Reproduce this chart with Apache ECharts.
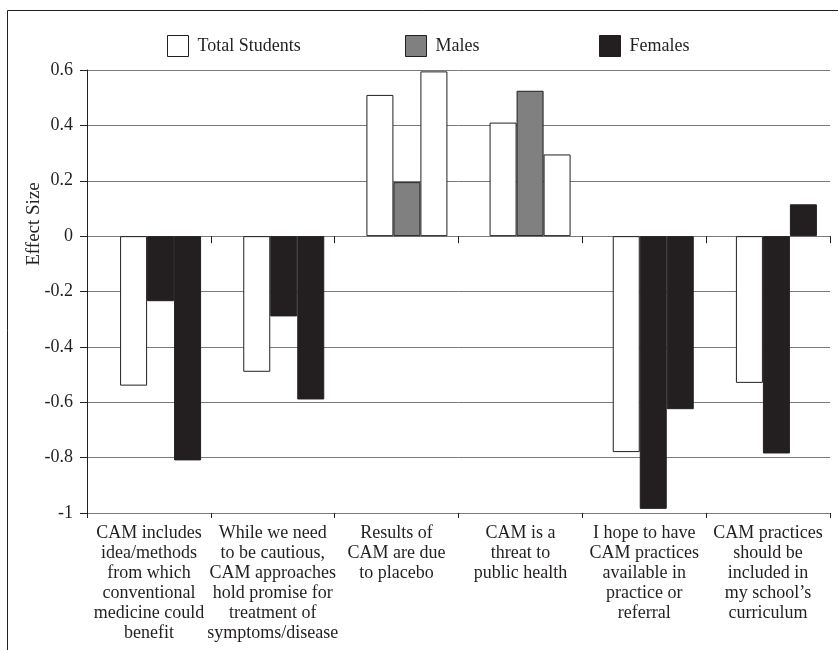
<!DOCTYPE html>
<html>
<head>
<meta charset="utf-8">
<script src="https://cdn.jsdelivr.net/npm/echarts@6/dist/echarts.min.js"></script>
<style>
  html, body { margin: 0; padding: 0; background: #fff; }
  #chart { width: 838px; height: 650px; }
</style>
</head>
<body>
<div id="chart"></div>
<script>
// 数据
const categories = [
  'CAM includes\nidea/methods\nfrom which\nconventional\nmedicine could\nbenefit',
  'While we need\nto be cautious,\nCAM approaches\nhold promise for\ntreatment of\nsymptoms/disease',
  'Results of\nCAM are due\nto placebo',
  'CAM is a\nthreat to\npublic health',
  'I hope to have\nCAM practices\navailable in\npractice or\nreferral',
  'CAM practices\nshould be\nincluded in\nmy school\u2019s\ncurriculum'
]
const totalStudents = [-0.54, -0.49, 0.51, 0.41, -0.78, -0.53]
const males = [-0.235, -0.29, 0.195, 0.525, -0.985, -0.785]
const females = [-0.81, -0.59, 0.595, 0.295, -0.625, 0.115]

// 配色
const ink = '#231f20'
const grey = '#808080'
const maleFill = [ink, ink, grey, grey, ink, ink]
const femaleFill = [ink, ink, '#ffffff', '#ffffff', ink, ink]

const font = '"Liberation Serif", "DejaVu Serif", serif'
const gridColor = '#7a7a7a'

const chart = echarts.init(document.getElementById('chart'))

const barStyle = (fill) => ({
  color: fill,
  borderColor: ink,
  borderWidth: 1
})

const legendItem = (name, left, fill) => ({
  left: left,
  top: 35,
  padding: 0,
  itemWidth: 21,
  itemHeight: 21,
  icon: 'rect',
  selectedMode: false,
  data: [{ name: name, itemStyle: barStyle(fill) }],
  textStyle: { fontFamily: font, fontSize: 18, color: ink, padding: [0, 0, 0, 4] }
})

const option = {
  animation: false,
  backgroundColor: '#fff',
  textStyle: { fontFamily: font },
  legend: [
    legendItem('Total Students', 167, '#ffffff'),
    legendItem('Males', 405, grey),
    legendItem('Females', 599, ink)
  ],
  grid: [
    // 坐标轴网格
    { left: 87, right: 8, top: 70, bottom: 137 },
    // 柱子网格（原图柱组略向右偏）
    { left: 99, right: -4, top: 70, bottom: 137 }
  ],
  graphic: [
    {
      type: 'polyline',
      shape: { points: [[7.5, 650], [7.5, 10.5], [838, 10.5]] },
      style: { stroke: ink, lineWidth: 1, fill: null }
    },
    {
      type: 'text',
      x: 34,
      y: 224,
      rotation: Math.PI / 2,
      style: {
        text: 'Effect Size',
        font: '19px ' + font,
        fill: ink,
        textAlign: 'center',
        textVerticalAlign: 'middle'
      }
    }
  ],
  xAxis: [
    {
      // 零线 + 分类刻度
      type: 'category',
      gridIndex: 0,
      position: 'bottom',
      data: categories,
      axisLine: { show: true, onZero: true, onZeroAxisIndex: 0, lineStyle: { color: gridColor } },
      axisTick: { show: true, interval: 0, length: 7, lineStyle: { color: ink, width: 1 } },
      axisLabel: { show: false }
    },
    {
      // 底部分类标签
      type: 'category',
      gridIndex: 0,
      position: 'bottom',
      data: categories,
      axisLine: { show: true, onZero: false, lineStyle: { color: gridColor } },
      axisTick: { show: true, interval: 0, length: 5, lineStyle: { color: ink, width: 1 } },
      axisLabel: {
        interval: 0,
        margin: 10,
        fontFamily: font,
        fontSize: 18,
        lineHeight: 20,
        color: ink,
        align: 'center'
      }
    },
    {
      type: 'category',
      gridIndex: 1,
      data: categories,
      show: false
    }
  ],
  yAxis: [
    {
      type: 'value',
      gridIndex: 0,
      min: -1,
      max: 0.6,
      interval: 0.2,
      axisLine: { show: true, lineStyle: { color: ink } },
      axisTick: { show: true, length: 7, lineStyle: { color: ink } },
      axisLabel: {
        margin: 14,
        fontFamily: font,
        fontSize: 18,
        color: ink,
        formatter: (v) => String(+v.toFixed(1))
      },
      splitLine: { show: true, lineStyle: { color: gridColor, width: 1 } }
    },
    {
      type: 'value',
      gridIndex: 1,
      min: -1,
      max: 0.6,
      interval: 0.2,
      show: false,
      splitLine: { show: false }
    }
  ],
  series: [
    {
      name: 'Total Students',
      type: 'bar',
      xAxisIndex: 2,
      yAxisIndex: 1,
      barWidth: 27,
      barGap: '0%',
      itemStyle: barStyle('#ffffff'),
      data: totalStudents
    },
    {
      name: 'Males',
      type: 'bar',
      xAxisIndex: 2,
      yAxisIndex: 1,
      barWidth: 27,
      barGap: '0%',
      itemStyle: barStyle(grey),
      data: males.map((v, i) => ({ value: v, itemStyle: barStyle(maleFill[i]) }))
    },
    {
      name: 'Females',
      type: 'bar',
      xAxisIndex: 2,
      yAxisIndex: 1,
      barWidth: 27,
      barGap: '0%',
      itemStyle: barStyle(ink),
      data: females.map((v, i) => ({ value: v, itemStyle: barStyle(femaleFill[i]) }))
    }
  ]
}

chart.setOption(option)

window.addEventListener('resize', () => {
  chart.resize()
})
</script>
</body>
</html>
